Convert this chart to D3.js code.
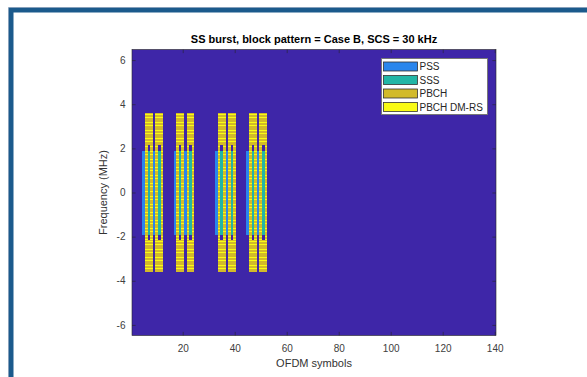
<!DOCTYPE html>
<html>
<head>
<meta charset="utf-8">
<script src="https://cdn.jsdelivr.net/npm/d3@7"></script>
<style>
body { margin: 0; background: #fff; }
svg { display: block; font-family: "Liberation Sans", Arial, sans-serif; }
</style>
</head>
<body>
<svg width="587" height="377"></svg>
<script>
// SS burst, Case B, 30 kHz: first OFDM symbol (0-based) of each SS block in the half frame
var ssbStarts = [4, 8, 16, 20, 32, 36, 44, 48];
var nSymbols = 140;
var nSubcarriers = 432;     // carrier width in subcarriers
var ssbSubcarriers = 240;
var scsMHz = 0.03;
var dmrsOffset = 1;         // DM-RS every 4th subcarrier, starting at v

// content of one SS block: [symbol in block, first subcarrier, last subcarrier]
var pssRegions = [[0, 56, 182]];
var sssRegions = [[2, 56, 182]];
var pbchRegions = [[1, 0, 239], [2, 0, 47], [2, 192, 239], [3, 0, 239]];

var channelNames = ['PSS', 'SSS', 'PBCH', 'PBCH DM-RS'];
var channelColors = ['#2a86ec', '#22b6a6', '#d2ba2a', '#f9fb15'];
var emptyColor = '#3e26a8';

var xTicks = [20, 40, 60, 80, 100, 120, 140];
var yTicks = [-6, -4, -2, 0, 2, 4, 6];

var svg = d3.select('svg');

var plot = {l: 132, r: 496, t: 49.5, b: 335.5};

// build the resource grid cells (only non-empty ones)
var ssbOffset = (nSubcarriers - ssbSubcarriers) / 2;
var cells = [];
ssbStarts.forEach(function(s) {
    pssRegions.forEach(function(r) {
        for (var k = r[1]; k <= r[2]; k++) cells.push({sym: s + r[0], sc: ssbOffset + k, ch: 0});
    });
    sssRegions.forEach(function(r) {
        for (var k = r[1]; k <= r[2]; k++) cells.push({sym: s + r[0], sc: ssbOffset + k, ch: 1});
    });
    pbchRegions.forEach(function(r) {
        for (var k = r[1]; k <= r[2]; k++) {
            cells.push({sym: s + r[0], sc: ssbOffset + k, ch: (k % 4 == dmrsOffset) ? 3 : 2});
        }
    });
});

var freqEdge = nSubcarriers / 2 * scsMHz;

var xScale = d3.scaleLinear()
    .domain([0.5, nSymbols + 0.5])
    .range([plot.l, plot.r]);
var yScale = d3.scaleLinear()
    .domain([-freqEdge, freqEdge])
    .range([plot.b, plot.t]);

function scFreq(sc) { return (sc - nSubcarriers / 2) * scsMHz; }

// figure frame
svg.append('path')
    .attr('d', 'M8.5,377V7.5H587')
    .attr('fill', 'none')
    .attr('stroke', '#86a0bb')
    .attr('stroke-width', 1);
svg.append('path')
    .attr('d', 'M11.25,377V10.25H587')
    .attr('fill', 'none')
    .attr('stroke', '#1b5a8c')
    .attr('stroke-width', 4.5);

// image
svg.append('rect')
    .attr('x', xScale(0.5))
    .attr('y', yScale(freqEdge))
    .attr('width', xScale(nSymbols + 0.5) - xScale(0.5))
    .attr('height', yScale(-freqEdge) - yScale(freqEdge))
    .attr('fill', emptyColor);

svg.append('g')
    .attr('shape-rendering', 'crispEdges')
    .selectAll('rect')
    .data(cells)
    .enter()
    .append('rect')
    .attr('x', function(d) { return xScale(d.sym + 0.5); })
    .attr('width', function(d) { return xScale(d.sym + 1.5) - xScale(d.sym + 0.5); })
    .attr('y', function(d) { return yScale(scFreq(d.sc + 1)); })
    .attr('height', function(d) { return yScale(scFreq(d.sc)) - yScale(scFreq(d.sc + 1)); })
    .attr('fill', function(d) { return channelColors[d.ch]; });

// axes, matlab style: ticks inside on all four sides
var tickLen = 3.6;
var axisColor = '#262626';

var xAxisG = svg.append('g')
    .attr('transform', 'translate(0,' + plot.b + ')')
    .call(d3.axisBottom(xScale).tickValues(xTicks).tickSizeInner(-tickLen).tickSizeOuter(0).tickPadding(9));
var yAxisG = svg.append('g')
    .attr('transform', 'translate(' + plot.l + ',0)')
    .call(d3.axisLeft(yScale).tickValues(yTicks).tickSizeInner(-tickLen).tickSizeOuter(0).tickPadding(6.5)
        .tickFormat(function(d) { return d < 0 ? '-' + Math.abs(d) : d; }));
var topAxisG = svg.append('g')
    .attr('transform', 'translate(0,' + plot.t + ')')
    .call(d3.axisTop(xScale).tickValues(xTicks).tickSizeInner(-tickLen).tickSizeOuter(0).tickFormat(''));
var rightAxisG = svg.append('g')
    .attr('transform', 'translate(' + plot.r + ',0)')
    .call(d3.axisRight(yScale).tickValues(yTicks).tickSizeInner(-tickLen).tickSizeOuter(0).tickFormat(''));

[xAxisG, yAxisG, topAxisG, rightAxisG].forEach(function(g) {
    g.select('.domain').remove();
    g.selectAll('line').attr('stroke', axisColor).attr('stroke-width', 0.6);
    g.selectAll('text')
        .attr('font-family', '"Liberation Sans", Arial, sans-serif')
        .attr('font-size', 10)
        .attr('fill', '#404040');
});

svg.append('rect')
    .attr('x', plot.l)
    .attr('y', plot.t)
    .attr('width', plot.r - plot.l)
    .attr('height', plot.b - plot.t)
    .attr('fill', 'none')
    .attr('stroke', axisColor)
    .attr('stroke-width', 0.6);

// labels
svg.append('text')
    .attr('x', (plot.l + plot.r) / 2)
    .attr('y', 43)
    .attr('text-anchor', 'middle')
    .attr('font-size', 11)
    .attr('font-weight', 'bold')
    .attr('fill', '#000')
    .text('SS burst, block pattern = Case B, SCS = 30 kHz');

svg.append('text')
    .attr('x', (plot.l + plot.r) / 2)
    .attr('y', 367)
    .attr('text-anchor', 'middle')
    .attr('font-size', 11)
    .attr('fill', '#333')
    .text('OFDM symbols');

svg.append('text')
    .attr('transform', 'translate(107,' + (plot.t + plot.b) / 2 + ') rotate(-90)')
    .attr('text-anchor', 'middle')
    .attr('font-size', 11)
    .attr('fill', '#333')
    .text('Frequency (MHz)');

// legend
var legend = {x: 381, y: 58, w: 106, h: 56};
var legendG = svg.append('g');
legendG.append('rect')
    .attr('x', legend.x + 0.5)
    .attr('y', legend.y + 0.5)
    .attr('width', legend.w)
    .attr('height', legend.h)
    .attr('fill', '#fff')
    .attr('stroke', '#777')
    .attr('stroke-width', 1);

var rowY = d3.scalePoint()
    .domain(channelNames)
    .range([legend.y + 8.5, legend.y + 49]);

var items = legendG.selectAll('.item')
    .data(channelNames)
    .enter()
    .append('g')
    .attr('class', 'item')
    .attr('transform', function(d) { return 'translate(0,' + rowY(d) + ')'; });
items.append('rect')
    .attr('x', legend.x + 2.5)
    .attr('y', -4.5)
    .attr('width', 34)
    .attr('height', 9)
    .attr('fill', function(d, i) { return channelColors[i]; })
    .attr('stroke', '#333')
    .attr('stroke-width', 0.8);
items.append('text')
    .attr('x', legend.x + 38.5)
    .attr('dy', '0.35em')
    .attr('font-size', 10)
    .attr('fill', '#262626')
    .text(function(d) { return d; });
</script>
</body>
</html>
